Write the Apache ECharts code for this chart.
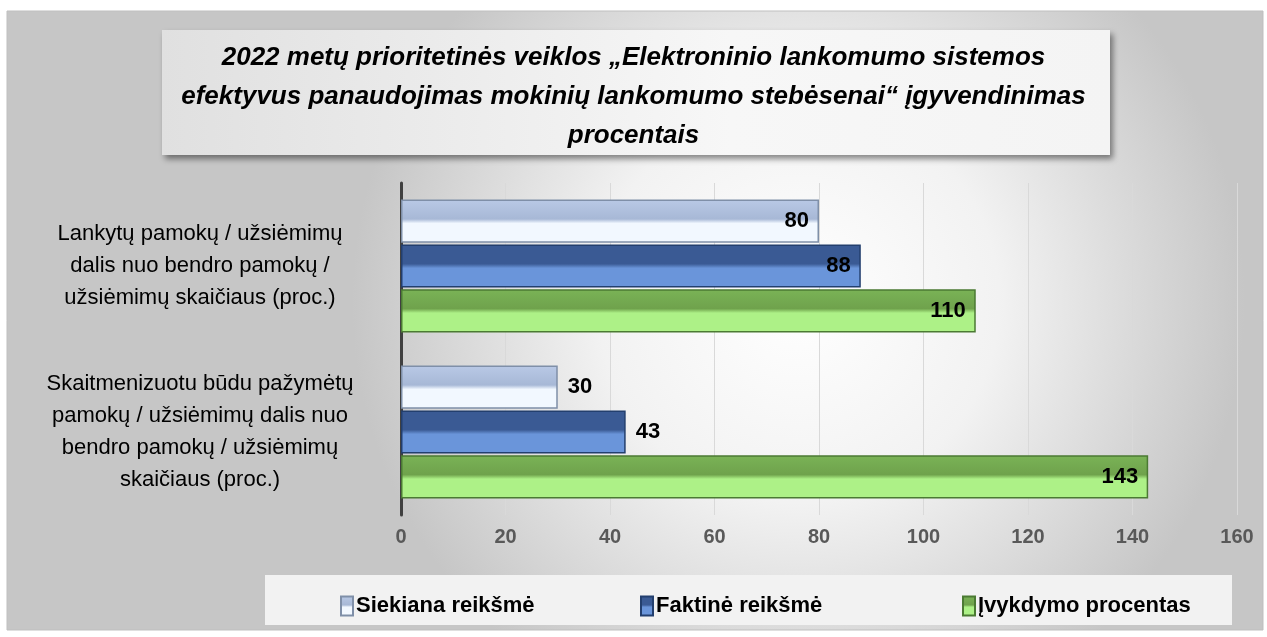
<!DOCTYPE html>
<html>
<head>
<meta charset="utf-8">
<script src="https://cdn.jsdelivr.net/npm/echarts@6/dist/echarts.min.js"></script>
<style>
  html, body { margin: 0; padding: 0; background: #fff; }
  #main { width: 1267px; height: 637px; }
</style>
</head>
<body>
<div id="main"></div>
<script>
// duomenys
var categories = [
  'Lankytų pamokų / užsiėmimų\ndalis nuo bendro pamokų /\nužsiėmimų skaičiaus (proc.)',
  'Skaitmenizuotu būdu pažymėtų\npamokų / užsiėmimų dalis nuo\nbendro pamokų / užsiėmimų\nskaičiaus (proc.)'
];
var seriesNames = ['Siekiana reikšmė', 'Faktinė reikšmė', 'Įvykdymo procentas'];
var siekiana = [80, 30];
var faktine = [88, 43];
var ivykdymas = [110, 143];
var xTicks = [0, 20, 40, 60, 80, 100, 120, 140, 160];

var FONT = '"Liberation Sans", sans-serif';

function grad(top, mid, bottom) {
  return new echarts.graphic.LinearGradient(0, 0, 0, 1, [
    { offset: 0, color: top },
    { offset: 0.45, color: mid },
    { offset: 0.55, color: bottom },
    { offset: 1, color: bottom }
  ]);
}

var styles = [
  { color: grad('#b9c9e6', '#a7b8d6', '#f2f8ff'), border: '#7f8fa8' },
  { color: grad('#3a5a94', '#3a5a94', '#6a95da'), border: '#233f6e' },
  { color: grad('#7ab356', '#6fa24c', '#adf187'), border: '#4b7a33' }
];

function makeData(arr) {
  return arr.map(function (v) {
    return {
      value: v,
      label: { position: v < 50 ? 'right' : 'insideRight' }
    };
  });
}

var all = [siekiana, faktine, ivykdymas];
var series = all.map(function (arr, i) {
  return {
    name: seriesNames[i],
    type: 'bar',
    data: makeData(arr),
    barGap: '4%',
    barCategoryGap: '20%',
    itemStyle: { color: styles[i].color, borderColor: styles[i].border, borderWidth: 1.5 },
    label: {
      show: true,
      color: '#000',
      fontFamily: FONT,
      fontWeight: 'bold',
      fontSize: 22,
      distance: 10
    }
  };
});

// legendos pozicijos kaip originale
var legendLeft = [335, 635, 957];
var legends = seriesNames.map(function (n, i) {
  return {
    left: legendLeft[i],
    top: 590,
    icon: 'rect',
    itemWidth: 12,
    itemHeight: 19,
    itemGap: 4,
    textStyle: { fontFamily: FONT, fontSize: 22, fontWeight: 'bold', color: '#000', padding: [0, 0, 0, -2] },
    data: [n]
  };
});

var chart = echarts.init(document.getElementById('main'));
chart.setOption({
  backgroundColor: '#fff',
  graphic: [
    {
      type: 'rect', z: -10,
      shape: { x: 7, y: 11, width: 1256, height: 619 },
      style: {
        fill: new echarts.graphic.RadialGradient(0.63, 0.47, 0.72, [
          { offset: 0, color: '#ffffff' },
          { offset: 0.45, color: '#f2f2f2' },
          { offset: 1, color: '#c6c6c6' }
        ]),
        stroke: '#bfbfbf', lineWidth: 1
      }
    },
    {
      type: 'rect', z: -5,
      shape: { x: 162, y: 30, width: 948, height: 125 },
      style: {
        fill: new echarts.graphic.LinearGradient(0, 0, 1, 0, [
          { offset: 0, color: '#e0e0e0' },
          { offset: 0.6, color: '#f7f7f7' },
          { offset: 1, color: '#f4f4f4' }
        ]),
        shadowBlur: 6, shadowOffsetX: 3, shadowOffsetY: 4, shadowColor: 'rgba(0,0,0,0.45)'
      }
    },
    {
      type: 'rect', z: -5,
      shape: { x: 265, y: 575, width: 967, height: 50 },
      style: { fill: '#f2f2f2' }
    },
    {
      type: 'text', z: 10,
      left: 'center', top: 38,
      style: {
        text: '2022 metų prioritetinės veiklos „Elektroninio lankomumo sistemos\nefektyvus panaudojimas mokinių lankomumo stebėsenai“ įgyvendinimas\nprocentais',
        font: 'italic bold 26px ' + FONT,
        fill: '#000',
        textAlign: 'center',
        lineHeight: 39
      }
    }
  ],
  legend: legends,
  grid: { left: 401, right: 30, top: 183, bottom: 122, containLabel: false },
  xAxis: {
    type: 'value',
    min: xTicks[0],
    max: xTicks[xTicks.length - 1],
    interval: 20,
    axisLine: { show: false },
    axisTick: { show: false },
    splitLine: { lineStyle: { color: '#d9d9d9', width: 1 } },
    axisLabel: { color: '#595959', fontFamily: FONT, fontWeight: 'bold', fontSize: 20, margin: 12 }
  },
  yAxis: {
    type: 'category',
    inverse: true,
    data: categories,
    axisLine: { show: true, lineStyle: { color: '#404040', width: 3 } },
    axisTick: { show: false },
    axisLabel: {
      color: '#000', fontFamily: FONT, fontSize: 22, lineHeight: 32,
      align: 'center', margin: 201
    }
  },
  series: series
});
</script>
</body>
</html>
